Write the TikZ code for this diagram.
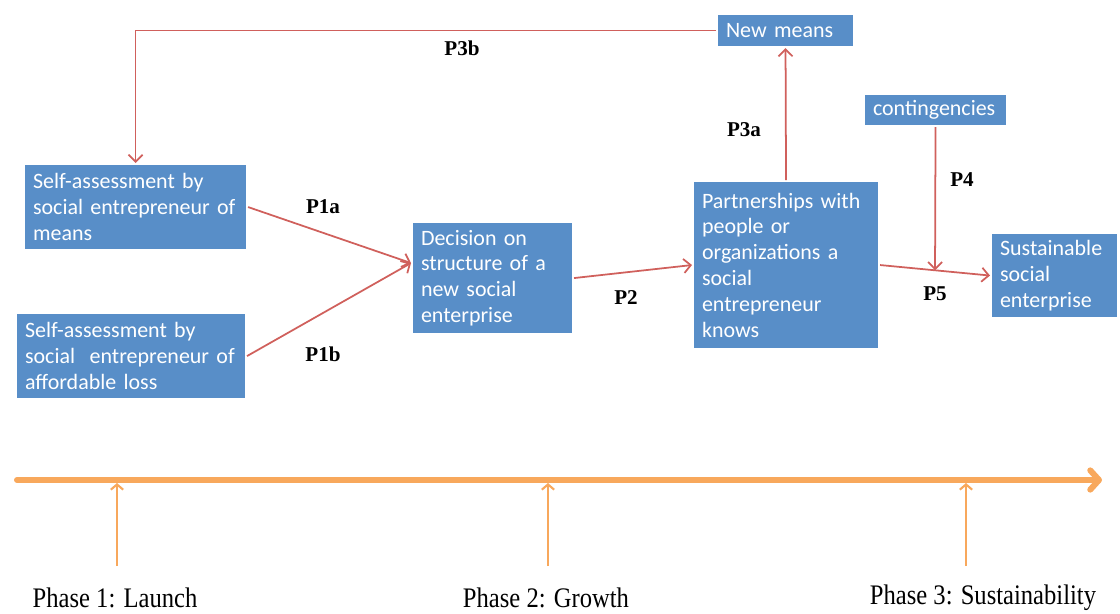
\documentclass[tikz,border=0pt]{standalone}
\usepackage{fontspec}
\setmainfont{Liberation Serif}
\newfontfamily\boxfont{Carlito}
\usetikzlibrary{positioning,calc,shadows,arrows.meta}
\definecolor{boxblue}{RGB}{88,142,200}
\definecolor{linkred}{RGB}{208,96,92}
\definecolor{phaseorange}{RGB}{248,168,92}
\tikzset{
    box/.style 2 args={draw=white,line width=1.2pt,fill=boxblue,text=white,
        font=\boxfont\fontsize{12.5}{14.7}\selectfont,align=left,anchor=north west,
        inner xsep=0.18cm,inner ysep=0pt,text width=#1,minimum height=#2,
        drop shadow={opacity=0.25,shadow xshift=0.6pt,shadow yshift=-0.6pt}},
    link/.style={draw=linkred,line width=1pt,-{Straight Barb[length=4pt,width=8pt]}},
    plabel/.style={font=\bfseries\fontsize{12}{14}\selectfont},
    timeline/.style={draw=phaseorange,line width=3.4pt,line cap=round,
        -{Straight Barb[round,length=5pt,width=11pt]}},
    tick/.style={draw=phaseorange,line width=1.2pt,-{Straight Barb[length=3pt,width=7pt]}},
    phase/.style={font=\fontsize{14}{16}\selectfont,yscale=1.15}
}
\begin{document}
\begin{tikzpicture}[x=0.02cm,y=-0.02cm]
    \useasboundingbox (0,0) rectangle (1120,613);
    % boxes
    \node[box={4.1cm}{1.72cm}] (means) at (23,163) {Self-assessment by\\social entrepreneur of\\means};
    \node[box={4.24cm}{1.72cm}] (loss) at (15,312) {Self-assessment by\\social\ \ entrepreneur of\\affordable loss};
    \node[box={2.86cm}{2.24cm}] (decision) at (411,221) {Decision on\\structure of a\\new social\\enterprise};
    \node[box={3.36cm}{3.36cm}] (partner) at (692,180) {Partnerships with\\people or\\organizations a\\social\\entrepreneur\\knows};
    \node[box={2.38cm}{0.66cm}] (newmeans) at (716,13) {New means};
    \node[box={2.5cm}{0.64cm}] (conting) at (863,93) {contingencies};
    \node[box={2.18cm}{1.7cm}] (sustain) at (990,232) {Sustainable\\social\\enterprise};
    % connectors
    \coordinate (decin) at ([yshift=0.3cm]decision.west);
    \coordinate (join) at ($(partner.east)!0.5!(sustain.west)$);
    \draw[link] (means.east) -- (decin);
    \draw[link] (loss.east) -- (decin);
    \draw[link] (decision.east) -- (partner.west);
    \draw[link] (partner.north) -- (newmeans.south);
    \draw[link] (newmeans.west) -| (means.north);
    \draw[link] (conting.south) -- (join);
    \draw[link] (partner.east) -- (sustain.west);
    % labels
    \node[plabel] (p1a) at (323,207) {P1a};
    \node[plabel] (p1b) at (323,354) {P1b};
    \node[plabel] (p2) at (626,298) {P2};
    \node[plabel] (p3a) at (744,130) {P3a};
    \node[plabel] (p3b) at (462,48) {P3b};
    \node[plabel] (p4) at (962,180) {P4};
    \node[plabel] (p5) at (935,294) {P5};
    % time line
    \coordinate (tstart) at (17,480);
    \coordinate (tend) at (1102,480);
    \draw[timeline] (tstart) -- (tend);
    \coordinate (ph1top) at (117,483);
    \coordinate (ph2top) at (548,483);
    \coordinate (ph3top) at (966,483);
    \coordinate (ph1foot) at (117,566);
    \coordinate (ph2foot) at (548,566);
    \coordinate (ph3foot) at (966,566);
    \draw[tick] (ph1foot) -- (ph1top);
    \draw[tick] (ph2foot) -- (ph2top);
    \draw[tick] (ph3foot) -- (ph3top);
    \node[phase] (ph1) at (115,598) {Phase 1: Launch};
    \node[phase] (ph2) at (546,598) {Phase 2: Growth};
    \node[phase] (ph3) at (983,598) {Phase 3: Sustainability};
\end{tikzpicture}
\end{document}
